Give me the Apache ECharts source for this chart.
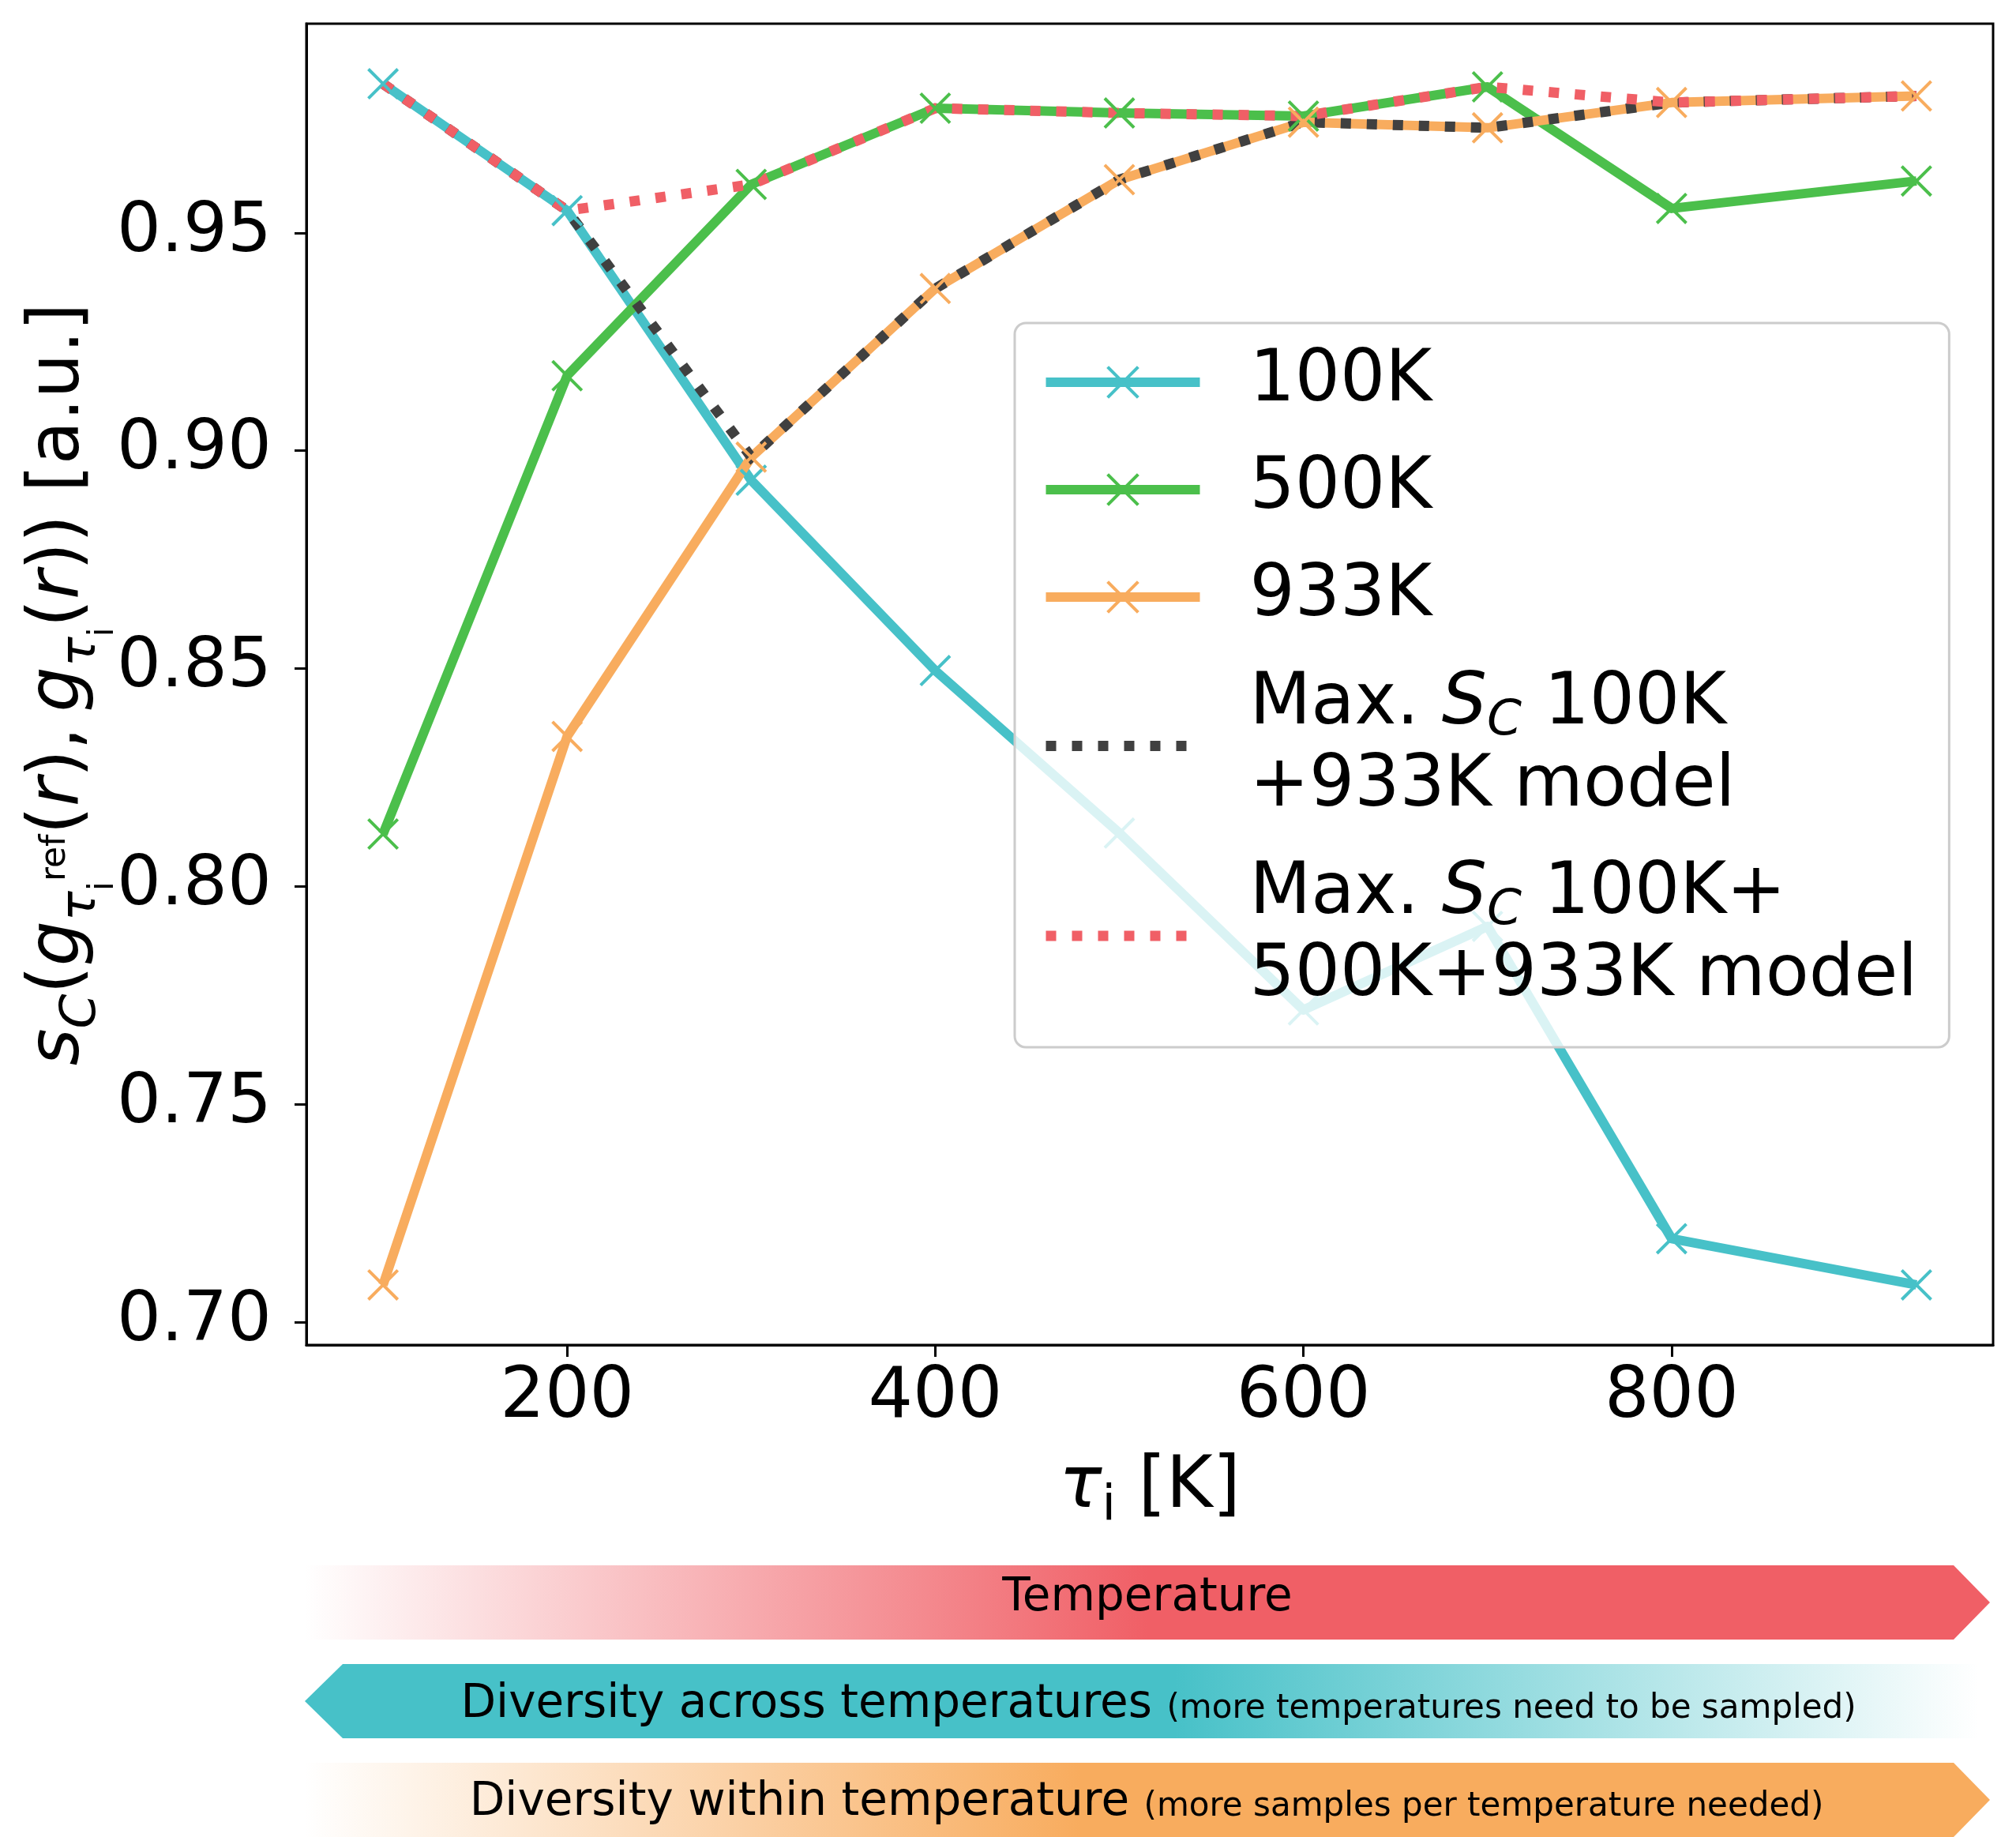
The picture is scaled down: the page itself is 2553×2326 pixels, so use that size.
<!DOCTYPE html>
<html>
<head>
<meta charset="utf-8">
<script src="https://cdn.jsdelivr.net/npm/echarts@6/dist/echarts.min.js"></script>
<style>
html, body { margin: 0; padding: 0; background: #fff; }
#chart { width: 2553px; height: 2326px; }
</style>
</head>
<body>
<div id="chart"></div>
<script>
// data
const temps = [100, 200, 300, 400, 500, 600, 700, 800, 933];
const sc100 = [0.9842, 0.9551, 0.8932, 0.8495, 0.8122, 0.7716, 0.7908, 0.7191, 0.7085];
const sc500 = [0.8120, 0.9172, 0.9611, 0.9786, 0.9775, 0.9768, 0.9835, 0.9556, 0.9619];
const sc933 = [0.7085, 0.8344, 0.8985, 0.9372, 0.9622, 0.9754, 0.9741, 0.9799, 0.9814];
const max100_933 = [0.9842, 0.9551, 0.8985, 0.9372, 0.9622, 0.9754, 0.9741, 0.9799, 0.9814];
const maxAll = [0.9842, 0.9551, 0.9611, 0.9786, 0.9775, 0.9768, 0.9835, 0.9799, 0.9814];
const xTicks = [200, 400, 600, 800];
const yTicks = [0.70, 0.75, 0.80, 0.85, 0.90, 0.95];
const names = ['100K', '500K', '933K', 'max100_933', 'maxAll'];

const FONT = 'DejaVu Sans';
const CYAN = '#47c1c8', GREEN = '#4bbf4b', ORANGE = '#f8ac5e', DARK = '#404040', RED = '#f05f66';
// matplotlib style 'x' marker
const xMarker = 'path://M0,0.7L0.7,0L10,9.3L9.3,10Z M9.3,0L10,0.7L0.7,10L0,9.3Z';
const SOLID_W = 12, DOT_W = 13, DOT_DASH = [13, 20];

function pairs(ys) {
	return temps.map((t, i) => [t, ys[i]]);
}

function solidSeries(name, ys, color) {
	return {
		name: name,
		type: 'line',
		data: pairs(ys),
		symbol: xMarker,
		symbolSize: 40,
		showAllSymbol: true,
		itemStyle: { color: color },
		lineStyle: { color: color, width: SOLID_W, join: 'round' },
		emphasis: { disabled: true },
	};
}

function dottedSeries(name, ys, color) {
	return {
		name: name,
		type: 'line',
		data: pairs(ys),
		symbol: 'none',
		showSymbol: false,
		itemStyle: { color: 'rgba(0,0,0,0)' },
		lineStyle: { color: color, width: DOT_W, type: DOT_DASH, cap: 'butt', join: 'miter' },
		emphasis: { disabled: true },
	};
}

const chart = echarts.init(document.getElementById('chart'));

const legendText = {
	'100K': '100K',
	'500K': '500K',
	'933K': '933K',
	'max100_933': 'Max. {it|S}{sub|C} 100K\n+933K model',
	'maxAll': 'Max. {it|S}{sub|C} 100K+\n500K+933K model',
};

const legendData = [
	{ name: '100K', lineStyle: { width: SOLID_W } },
	{ name: '500K', lineStyle: { width: SOLID_W } },
	{ name: '933K', lineStyle: { width: SOLID_W } },
	{ name: 'max100_933', lineStyle: { width: DOT_W, type: DOT_DASH, color: DARK } },
	{ name: 'maxAll', lineStyle: { width: DOT_W, type: DOT_DASH, color: RED } },
];

function arrowGradient(stops) {
	return { type: 'linear', x: 0, y: 0, x2: 1, y2: 0, colorStops: stops };
}

const option = {
	animation: false,
	backgroundColor: '#fff',
	grid: {
		left: 388, top: 30, right: 29, bottom: 623,
		show: true, borderColor: '#000', borderWidth: 3,
		outerBoundsMode: 'none',
	},
	xAxis: {
		type: 'value',
		min: 58.35,
		max: 974.65,
		name: '{t|τ}{s|i}{n| [K]}',
		nameLocation: 'middle',
		nameGap: 127,
		nameTextStyle: {
			fontFamily: FONT, fontSize: 90, color: '#000',
			rich: {
				t: { fontFamily: FONT, fontSize: 90, fontStyle: 'italic', color: '#000' },
				s: { fontFamily: FONT, fontSize: 63, color: '#000', padding: [46, 0, 0, 0] },
				n: { fontFamily: FONT, fontSize: 90, color: '#000' },
			},
		},
		axisLine: { show: true, onZero: false, lineStyle: { color: '#000', width: 3 } },
		axisTick: { show: true, length: 15, lineStyle: { color: '#000', width: 3 }, customValues: xTicks },
		axisLabel: {
			fontFamily: FONT, fontSize: 89, color: '#000', margin: 23,
			customValues: xTicks,
		},
		splitLine: { show: false },
	},
	yAxis: {
		type: 'value',
		min: 0.6947,
		max: 0.9980,
		name: '{it|s}{sc|C}{n|(}{it|g}{st|τ}{ss|i}{sr|ref}{n|(}{it|r}{n|),}{th| }{it|g}{st|τ}{ss|i}{n|(}{it|r}{n|)) [a.u.]}',
		nameLocation: 'middle',
		nameRotate: 90,
		nameGap: 234,
		nameMoveOverlap: false,
		nameTextStyle: {
			fontFamily: FONT, fontSize: 90, color: '#000',
			rich: {
				it: { fontFamily: FONT, fontSize: 90, fontStyle: 'italic', color: '#000' },
				n: { fontFamily: FONT, fontSize: 90, color: '#000' },
				th: { fontFamily: FONT, fontSize: 60, color: '#000' },
				sc: { fontFamily: FONT, fontSize: 63, fontStyle: 'italic', color: '#000', padding: [56, 0, 0, 0] },
				st: { fontFamily: FONT, fontSize: 63, fontStyle: 'italic', color: '#000', padding: [56, 0, 0, 0] },
				ss: { fontFamily: FONT, fontSize: 44, color: '#000', padding: [112, 0, 0, 0] },
				sr: { fontFamily: FONT, fontSize: 44, color: '#000', padding: [0, 0, 10, 0] },
			},
		},
		axisLine: { show: true, lineStyle: { color: '#000', width: 3 } },
		axisTick: { show: true, length: 15, lineStyle: { color: '#000', width: 3 }, customValues: yTicks },
		axisLabel: {
			fontFamily: FONT, fontSize: 88, color: '#000', margin: 44,
			customValues: yTicks,
			formatter: v => v.toFixed(2),
		},
		splitLine: { show: false },
	},
	legend: {
		orient: 'vertical',
		left: 1285,
		top: 409,
		data: legendData,
		itemWidth: 195,
		itemHeight: 52,
		itemGap: 32,
		padding: [23, 40, 37, 33],
		backgroundColor: 'rgba(255,255,255,0.8)',
		borderColor: '#cccccc',
		borderWidth: 3,
		borderRadius: 14,
		selectedMode: false,
		formatter: n => legendText[n],
		textStyle: {
			fontFamily: FONT, fontSize: 90, color: '#000', lineHeight: 104,
			padding: [0, 0, 0, 58],
			rich: {
				it: { fontFamily: FONT, fontSize: 90, fontStyle: 'italic', color: '#000', lineHeight: 104 },
				sub: { fontFamily: FONT, fontSize: 63, fontStyle: 'italic', color: '#000', lineHeight: 104, padding: [42, 0, 0, 0] },
			},
		},
	},
	series: [
		solidSeries('100K', sc100, CYAN),
		solidSeries('500K', sc500, GREEN),
		solidSeries('933K', sc933, ORANGE),
		dottedSeries('max100_933', max100_933, DARK),
		dottedSeries('maxAll', maxAll, RED),
	],
	graphic: [
		{
			type: 'polygon',
			shape: { points: [[386, 1982], [2474, 1982], [2520, 2029], [2474, 2076], [386, 2076]] },
			style: { fill: arrowGradient([
				{ offset: 0, color: 'rgba(240,95,102,0)' },
				{ offset: 0.5, color: 'rgba(240,95,102,1)' },
				{ offset: 1, color: 'rgba(240,95,102,1)' },
			]) },
		},
		{
			type: 'polygon',
			shape: { points: [[386, 2154], [434, 2107], [2505, 2107], [2505, 2201], [434, 2201]] },
			style: { fill: arrowGradient([
				{ offset: 0, color: 'rgba(71,193,200,1)' },
				{ offset: 0.52, color: 'rgba(71,193,200,1)' },
				{ offset: 1, color: 'rgba(71,193,200,0)' },
			]) },
		},
		{
			type: 'polygon',
			shape: { points: [[386, 2232], [2474, 2232], [2520, 2279], [2474, 2326], [386, 2326]] },
			style: { fill: arrowGradient([
				{ offset: 0, color: 'rgba(248,172,94,0)' },
				{ offset: 0.46, color: 'rgba(248,172,94,1)' },
				{ offset: 1, color: 'rgba(248,172,94,1)' },
			]) },
		},
		{
			type: 'text',
			x: 1453, y: 2024,
			style: { text: 'Temperature', fontFamily: FONT, fontSize: 58, fill: '#000', align: 'center', verticalAlign: 'middle' },
		},
		{
			type: 'text',
			x: 1467, y: 2159,
			style: {
				text: '{m|Diversity across temperatures }{s|(more temperatures need to be sampled)}',
				align: 'center', verticalAlign: 'middle',
				rich: {
					m: { fontFamily: FONT, fontSize: 58, fill: '#000' },
					s: { fontFamily: FONT, fontSize: 42, fill: '#000', padding: [10, 0, 0, 0] },
				},
			},
		},
		{
			type: 'text',
			x: 1452, y: 2283,
			style: {
				text: '{m|Diversity within temperature }{s|(more samples per temperature needed)}',
				align: 'center', verticalAlign: 'middle',
				rich: {
					m: { fontFamily: FONT, fontSize: 58, fill: '#000' },
					s: { fontFamily: FONT, fontSize: 42, fill: '#000', padding: [10, 0, 0, 0] },
				},
			},
		},
	],
};

chart.setOption(option);
</script>
</body>
</html>
